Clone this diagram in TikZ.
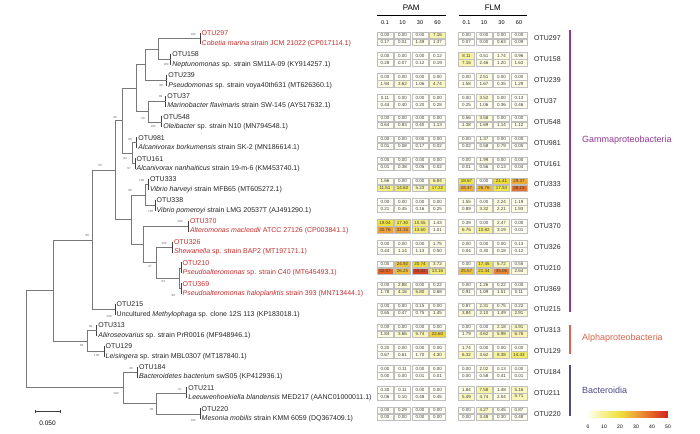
\documentclass[tikz,border=0pt]{standalone}
\usepackage{fontspec}
\setmainfont{Liberation Sans}
\usepackage{tikz}

\definecolor{otured}{RGB}{196,45,45}
\definecolor{treegray}{RGB}{120,120,120}
\definecolor{gammacol}{RGB}{145,55,150}
\definecolor{alphacol}{RGB}{218,100,75}
\definecolor{bactcol}{RGB}{75,75,135}
\definecolor{hma}{RGB}{255,255,248}
\definecolor{hmb}{RGB}{246,240,140}
\definecolor{hmc}{RGB}{238,226,60}
\definecolor{hmd}{RGB}{238,165,55}
\definecolor{hme}{RGB}{228,100,40}
\definecolor{hmf}{RGB}{210,35,30}

% colour of a heatmap value (0..50) -> cellc
\newcommand\hmcolor[1]{%
  \pgfmathsetmacro\hv{#1}%
  \ifdim\hv pt<10pt \pgfmathsetmacro\hp{10*\hv}\colorlet{cellc}{hmb!\hp!hma}%
  \else\ifdim\hv pt<20pt \pgfmathsetmacro\hp{10*(\hv-10)}\colorlet{cellc}{hmc!\hp!hmb}%
  \else\ifdim\hv pt<30pt \pgfmathsetmacro\hp{10*(\hv-20)}\colorlet{cellc}{hmd!\hp!hmc}%
  \else\ifdim\hv pt<40pt \pgfmathsetmacro\hp{10*(\hv-30)}\colorlet{cellc}{hme!\hp!hmd}%
  \else \pgfmathsetmacro\hp{min(100,10*(\hv-40))}\colorlet{cellc}{hmf!\hp!hme}%
  \fi\fi\fi\fi}

% leaf: otu, row, tip x, species, colour
\newcommand\leaf[5]{%
  \coordinate (t#1) at (#3,{38.5+20.85*#2});
  \draw[leaftick] ([yshift=5.5pt]t#1) -- ([yshift=-5.5pt]t#1);
  \node[otulab,text=#5] (l#1) at ([xshift=1.5pt,yshift=5pt]t#1) {OTU#1};
  \node[otulab,text=#5] (s#1) at ([xshift=1.5pt,yshift=-5pt]t#1) {#4};}

\begin{document}
\begin{tikzpicture}[x=1pt,y=-1pt]
    \tikzset { branch/.style = { draw=treegray, line width=0.6pt } }
    \tikzset { leaftick/.style = { draw=black!75, line width=0.5pt } }
    \tikzset { otulab/.style = { anchor=west, inner sep=0pt, text=black!85, font=\fontsize{7}{8}\selectfont } }
    \tikzset { boot/.style = { inner sep=0pt, text=black!60, font=\fontsize{3}{3}\selectfont } }
    \tikzset { hmcell/.style = { draw=black!25, line width=0.3pt, minimum width=16pt, minimum height=6.4pt,
                                 inner sep=0pt, text=black!75, font=\fontsize{4.5}{5}\selectfont } }
    \tikzset { hdr/.style = { font=\fontsize{8}{9}\selectfont } }
    \tikzset { collab/.style = { font=\fontsize{5.5}{6}\selectfont } }
    \tikzset { cladebar/.style = { line width=1.3pt } }
    \tikzset { cladelab/.style = { anchor=west, inner sep=0pt, font=\fontsize{9}{10}\selectfont } }

    \useasboundingbox (0,0) rectangle (700,433);

    % leaves
    \leaf{297}{0}{200}{\textit{Cobetia marina} strain JCM 21022 (CP017114.1)}{otured}
    \leaf{158}{1}{170.7}{\textit{Neptunomonas} sp. strain SM11A-09 (KY914257.1)}{black!85}
    \leaf{239}{2}{166.7}{\textit{Pseudomonas} sp. strain voya40th631 (MT626360.1)}{black!85}
    \leaf{37}{3}{165.7}{\textit{Marinobacter flavimaris} strain SW-145 (AY517632.1)}{black!85}
    \leaf{548}{4}{161.7}{\textit{Oleibacter} sp. strain N10 (MN794548.1)}{black!85}
    \leaf{981}{5}{136.7}{\textit{Alcanivorax borkumensis} strain SK-2 (MN186614.1)}{black!85}
    \leaf{161}{6}{135}{\textit{Alcanivorax nanhaiticus} strain 19-m-6 (KM453740.1)}{black!85}
    \leaf{333}{7}{148.3}{\textit{Vibrio harveyi} strain MFB65 (MT605272.1)}{black!85}
    \leaf{338}{8}{155}{\textit{Vibrio pomeroyi} strain LMG 20537T (AJ491290.1)}{black!85}
    \leaf{370}{9}{188.3}{\textit{Alteromonas macleodii} ATCC 27126 (CP003841.1)}{otured}
    \leaf{326}{10}{172.3}{\textit{Shewanella} sp. strain BAP2 (MT197171.1)}{otured}
    \leaf{210}{11}{181}{\textit{Pseudoalteromonas} sp. strain C40 (MT645493.1)}{otured}
    \leaf{369}{12}{181}{\textit{Pseudoalteromonas haloplanktis} strain 393 (MN713444.1)}{otured}
    \leaf{215}{13}{115}{Uncultured \textit{Methylophaga} sp. clone 12S 113 (KP183018.1)}{black!85}
    \leaf{313}{14}{96.7}{\textit{Aliiroseovarius} sp. strain PrR0016 (MF948946.1)}{black!85}
    \leaf{129}{15}{104}{\textit{Leisingera} sp. strain MBL0307 (MT187840.1)}{black!85}
    \leaf{184}{16}{137.3}{\textit{Bacteroidetes bacterium} swS05 (KP412936.1)}{black!85}
    \leaf{211}{17}{186.7}{\textit{Leeuwenhoekiella blandensis} MED217 (AANC01000011.1)}{black!85}
    \leaf{220}{18}{200}{\textit{Mesonia mobilis} strain KMM 6059 (DQ367409.1)}{black!85}

    % inner nodes
    \coordinate (nA) at (158,48.9);
    \coordinate (nB) at (145,64.6);
    \coordinate (nE) at (148,111.5);
    \coordinate (nC) at (136,88.0);
    \coordinate (nG) at (132,153.2);
    \coordinate (nH) at (122.7,120.6);
    \coordinate (nV) at (145,194.9);
    \coordinate (nP) at (179,278.3);
    \coordinate (nS) at (156,262.6);
    \coordinate (nT) at (143.5,244.4);
    \coordinate (nU) at (131.7,219.6);
    \coordinate (nW) at (115,170.1);
    \coordinate (nX) at (92.7,239.8);
    \coordinate (nZ) at (87.3,340.8);
    \coordinate (nY) at (53.3,290.3);
    \coordinate (nQ) at (156.7,403.4);
    \coordinate (nR) at (123.3,387.7);
    \coordinate (nRoot) at (26.7,339.0);

    \draw[branch] (nA) |- (t297) (nA) |- (t158);
    \draw[branch] (nB) |- (nA) (nB) |- (t239);
    \draw[branch] (nE) |- (t37) (nE) |- (t548);
    \draw[branch] (nC) |- (nB) (nC) |- (nE);
    \draw[branch] (nG) |- (t981) (nG) |- (t161);
    \draw[branch] (nH) |- (nC) (nH) |- (nG);
    \draw[branch] (nV) |- (t333) (nV) |- (t338);
    \draw[branch] (nP) |- (t210) (nP) |- (t369);
    \draw[branch] (nS) |- (t326) (nS) |- (nP);
    \draw[branch] (nT) |- (t370) (nT) |- (nS);
    \draw[branch] (nU) |- (nV) (nU) |- (nT);
    \draw[branch] (nW) |- (nH) (nW) |- (nU);
    \draw[branch] (nX) |- (nW) (nX) |- (t215);
    \draw[branch] (nZ) |- (t313) (nZ) |- (t129);
    \draw[branch] (nY) |- (nX) (nY) |- (nZ);
    \draw[branch] (nQ) |- (t211) (nQ) |- (t220);
    \draw[branch] (nR) |- (t184) (nR) |- (nQ);
    \draw[branch] (nRoot) |- (nY) (nRoot) |- (nR);

    % bootstrap values
    \node[boot] (bs297) at (193,34) {100};
    \node[boot] (bs158) at (166,64) {100};
    \node[boot] (bs239) at (161,85) {98};
    \node[boot] (bs37) at (160.7,96) {89};
    \node[boot] (bs548) at (153,126.7) {100};
    \node[boot] (bsE) at (143,118) {49};
    \node[boot] (bsH) at (115,117) {68};
    \node[boot] (bs981) at (130,139) {99};
    \node[boot] (bsG) at (125,158.3) {94};
    \node[boot] (bs161) at (129,168.3) {97};
    \node[boot] (bsW) at (100,165) {56};
    \node[boot] (bs333) at (141.7,180) {100};
    \node[boot] (bsV) at (130,190) {90};
    \node[boot] (bs338) at (150.7,211) {100};
    \node[boot] (bs370) at (180,221.7) {100};
    \node[boot] (bsX) at (87.3,235) {86};
    \node[boot] (bs326) at (164,243.3) {100};
    \node[boot] (bsS) at (150,266.7) {97};
    \node[boot] (bs210) at (163.3,281.7) {63};
    \node[boot] (bs369) at (173.3,295) {98};
    \node[boot] (bs215) at (109,316) {100};
    \node[boot] (bs313) at (90.7,326.7) {99};
    \node[boot] (bsZ) at (81.7,345) {83};
    \node[boot] (bs129) at (96.7,355) {100};
    \node[boot] (bs184) at (131,368.3) {96};
    \node[boot] (bsR) at (116,393.3) {100};
    \node[boot] (bs211) at (180,389.3) {97};
    \node[boot] (bsQ) at (151.7,409.3) {58};
    \node[boot] (bs220) at (193,420) {100};

    % scale bar
    \coordinate (sbl) at (35,411.7);
    \coordinate (sbr) at (60,411.7);
    \draw[leaftick] (sbl) -- (sbr);
    \draw[leaftick] ([yshift=1.5pt]sbl) -- ([yshift=-1.5pt]sbl) ([yshift=1.5pt]sbr) -- ([yshift=-1.5pt]sbr);
    \node[font=\fontsize{6.5}{7}\selectfont] (sblab) at (47.5,423) {0.050};

    % heatmap header
    \node[hdr] (pam) at (411.25,8) {PAM};
    \node[hdr] (flm) at (492.75,8) {FLM};
    \draw[line width=0.9pt] (377,15) -- (446,15) (458.5,15) -- (527,15);
    \foreach \lab [count=\kk from 0] in {0.1,10,30,60,0.1,10,30,60} {
      \pgfmathsetmacro\cx{385+17.5*\kk+11.5*(\kk>3)}
      \node[collab] (col\kk) at (\cx,23) {\lab};
    }

    % heatmap: PAM top, FLM top, PAM bottom, FLM bottom
    \foreach \otu/\vals [count=\ri from 0] in {
      297/{0.00,0.00,0.00,7.16,0.00,0.00,0.00,0.00,0.17,0.01,1.49,1.37,0.07,0.00,0.63,0.09},
      158/{0.00,0.00,0.00,0.12,8.11,0.51,1.74,0.96,0.28,0.07,0.12,0.19,7.16,2.46,1.20,1.63},
      239/{0.00,0.00,0.00,0.00,0.00,2.51,0.00,0.00,1.94,3.62,1.06,4.74,1.58,1.67,0.35,1.29},
      37/{0.11,0.00,0.00,0.00,0.00,3.52,0.00,0.13,0.44,0.40,0.20,0.28,0.25,1.06,0.36,0.46},
      548/{0.00,0.00,0.00,0.00,0.56,3.58,0.00,0.00,0.64,0.83,0.40,1.13,1.38,1.69,1.14,1.12},
      981/{0.00,0.00,0.00,0.00,0.00,1.37,0.00,0.00,0.01,0.08,0.17,0.02,0.02,0.58,0.79,0.05},
      161/{0.00,0.00,0.00,0.00,0.00,1.99,0.00,0.00,0.01,0.38,0.05,0.02,0.01,0.56,0.13,0.04},
      333/{1.66,0.00,0.00,6.84,18.67,0.00,21.41,29.37,11.51,14.63,5.23,17.22,28.37,26.76,17.54,38.15},
      338/{0.00,0.00,0.00,0.00,1.55,0.00,2.24,1.19,0.21,0.45,0.16,0.25,0.89,3.32,2.21,1.93},
      370/{19.04,17.30,10.55,1.43,0.39,0.00,2.47,0.00,30.76,31.15,13.60,1.01,6.76,10.82,3.19,0.01},
      326/{0.00,0.00,0.00,1.75,0.00,0.00,0.00,0.13,0.44,1.14,1.13,0.50,0.04,0.30,0.18,0.12},
      210/{0.00,24.92,20.74,3.72,0.00,17.45,5.72,0.55,40.07,26.25,45.31,13.16,25.57,21.44,35.06,2.64},
      369/{0.00,2.88,0.00,0.22,0.00,1.26,0.22,0.00,1.78,4.16,5.80,0.68,0.91,1.09,1.51,0.11},
      215/{0.00,0.00,0.15,0.00,0.87,2.31,0.75,0.22,0.65,0.47,0.75,1.45,3.84,2.10,1.49,2.91},
      313/{0.00,0.00,0.00,0.00,0.00,0.00,2.18,4.91,1.84,3.66,5.74,22.60,1.79,4.62,5.98,6.76},
      129/{0.20,0.00,0.00,0.00,1.74,0.00,0.00,0.00,0.67,0.61,1.70,4.30,6.32,3.62,8.38,14.43},
      184/{0.00,0.11,0.00,0.00,0.00,2.02,0.13,0.00,0.00,0.00,0.01,0.01,0.00,0.58,0.41,0.01},
      211/{0.30,0.11,0.00,0.00,1.84,7.58,1.48,5.16,0.06,0.10,0.48,0.45,5.49,4.74,2.04,5.71},
      220/{0.00,0.29,0.00,0.00,0.00,4.27,0.45,0.87,0.00,0.00,0.00,0.00,0.00,3.48,0.30,0.48}} {
      \pgfmathsetmacro\ry{38.5+20.85*\ri}
      \node[otulab] (r\otu) at (534,\ry) {OTU\otu};
      \foreach \val [count=\kk from 0] in \vals {
        \pgfmathtruncatemacro\col{mod(\kk,8)}
        \pgfmathtruncatemacro\srow{\kk/8}
        \pgfmathsetmacro\cx{385+17.5*\col+11.5*(\col>3)}
        \pgfmathsetmacro\cy{\ry+7*\srow-3.5}
        \hmcolor{\val}
        \node[hmcell, fill=cellc] (c\otu-\kk) at (\cx,\cy) {\val};
      }
    }

    % classes
    \draw[cladebar, draw=gammacol] (570,30) -- (570,312);
    \draw[cladebar, draw=alphacol] (570,325) -- (570,354);
    \draw[cladebar, draw=bactcol] (570,365) -- (570,416);
    \node[cladelab, text=gammacol] (gamma) at (582,140) {Gammaproteobacteria};
    \node[cladelab, text=alphacol] (alpha) at (582,338) {Alphaproteobacteria};
    \node[cladelab, text=bactcol] (bact) at (582,390) {Bacteroidia};

    % colour key
    \foreach \kk in {0,...,79} {
      \hmcolor{\kk*50/80+0.3}
      \fill[cellc] ({588+\kk},411) rectangle ({589.2+\kk},418);
    }
    \foreach \lab [count=\kk from 0] in {0,10,20,30,40,50} {
      \node[font=\fontsize{5}{6}\selectfont] (key\lab) at ({588+16*\kk},427) {\lab};
    }
\end{tikzpicture}
\end{document}
